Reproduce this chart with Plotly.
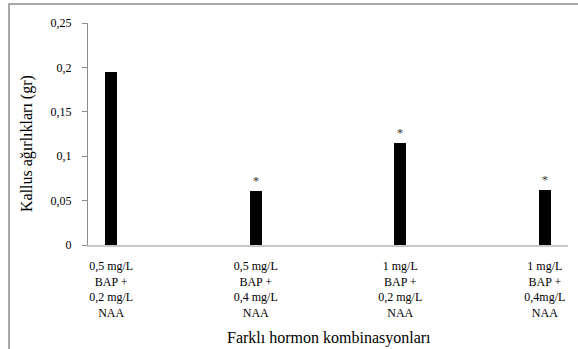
import plotly.graph_objects as go

categories = ["0,5 mg/L<br>BAP +<br>0,2 mg/L<br>NAA",
              "0,5 mg/L<br>BAP +<br>0,4 mg/L<br>NAA",
              "1 mg/L<br>BAP +<br>0,2 mg/L<br>NAA",
              "1 mg/L<br>BAP +<br>0,4mg/L<br>NAA"]
values = [0.195, 0.061, 0.115, 0.062]
marks = ["", "*", "*", "*"]
y_ticks = [0, 0.05, 0.1, 0.15, 0.2, 0.25]
y_ticklabels = ["0", "0,05", "0,1", "0,15", "0,2", "0,25"]

FONT = "Liberation Serif"

fig = go.Figure()
fig.add_trace(go.Bar(
    x=categories, y=values, width=0.083,
    marker=dict(color="#000000", line=dict(width=0)),
    text=marks, textposition="outside", cliponaxis=False,
    textfont=dict(family=FONT, size=13, color="#404040"),
))

fig.update_layout(
    width=578, height=349,
    margin=dict(l=88, r=10, t=23, b=104),
    paper_bgcolor="white", plot_bgcolor="white",
    showlegend=False,
    font=dict(family=FONT, size=12, color="#000000"),
    xaxis=dict(
        range=[-0.16, 3.16], showgrid=False, showline=True,
        linecolor="#c8c8c8", linewidth=1.5, ticks="",
        tickfont=dict(family=FONT, size=12, color="#000000"),
        ticklabelstandoff=9,
    ),
    yaxis=dict(
        range=[0, 0.25], tickvals=y_ticks, ticktext=y_ticklabels,
        showgrid=False, zeroline=False, showline=True,
        linecolor="#8c8c8c", linewidth=1, ticks="outside", ticklen=5,
        tickcolor="#8c8c8c", ticklabelstandoff=8,
        tickfont=dict(family=FONT, size=12, color="#000000"),
    ),
    annotations=[
        dict(text="Kallus ağırlıkları (gr)", xref="paper", yref="paper",
             x=(27 - 88) / 480, y=(245 - 144) / 222, textangle=-90,
             showarrow=False, font=dict(family=FONT, size=16, color="#000000"),
             xanchor="center", yanchor="middle"),
        dict(text="Farklı hormon kombinasyonları", xref="paper", yref="paper",
             x=(329 - 88) / 480, y=-(338 - 245) / 222,
             showarrow=False, font=dict(family=FONT, size=16, color="#000000"),
             xanchor="center", yanchor="middle"),
    ],
    shapes=[
        dict(type="rect", xref="paper", yref="paper",
             x0=(9 - 88) / 480, y0=-0.7, x1=1.2, y1=1 + (23 - 4) / 222,
             line=dict(color="#8c8c8c", width=1.5), layer="below"),
    ],
    bargap=0,
)

fig.write_html("out.html", config={"displayModeBar": False},
               post_script="document.body.style.margin='0px';")
